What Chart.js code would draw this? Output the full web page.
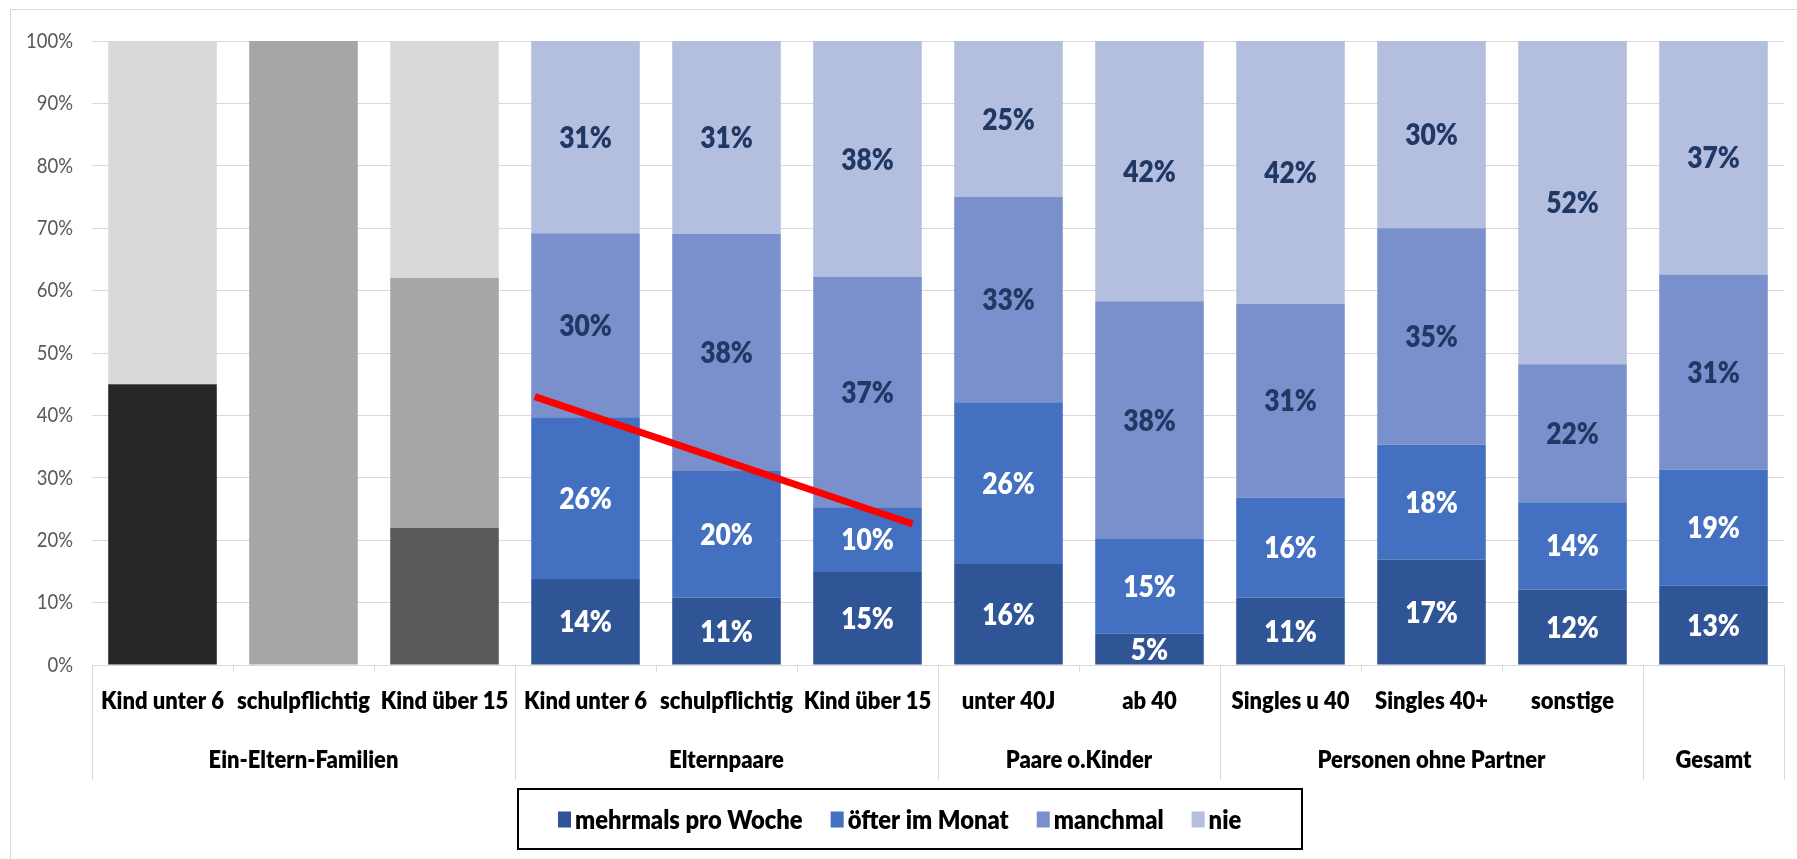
<!DOCTYPE html>
<html>
<head>
<meta charset="utf-8">
<script src="https://cdn.jsdelivr.net/npm/chart.js@4/dist/chart.umd.min.js"></script>
<style>
  html, body { margin: 0; padding: 0; background: #ffffff; }
  #wrap { width: 1797px; height: 859px; position: relative; }
</style>
</head>
<body>
<div id="wrap"><canvas id="c" width="1797" height="859"></canvas></div>
<script>
// ---- data ----
const categories = ['Kind unter 6', 'schulpflichtig', 'Kind über 15', 'Kind unter 6', 'schulpflichtig', 'Kind über 15', 'unter 40J', 'ab 40', 'Singles u 40', 'Singles 40+', 'sonstige', ''];
const groupNames = ['Ein-Eltern-Familien', 'Elternpaare', 'Paare o.Kinder', 'Personen ohne Partner', 'Gesamt'];
const groupSizes = [3, 3, 2, 3, 1];
const seriesNames = ['mehrmals pro Woche', 'öfter im Monat', 'manchmal', 'nie'];
const mehrmals = [45, 0, 22, 13.8, 10.8, 14.9, 16.2, 5.0, 10.8, 16.9, 12.1, 12.7];
const oefter   = [0, 100, 40, 25.9, 20.3, 10.4, 25.9, 15.2, 16.0, 18.4, 14.0, 18.6];
const manchmal = [0, 0, 0, 29.5, 38.0, 36.9, 32.9, 38.1, 31.1, 34.7, 22.1, 31.3];
const nie      = [55, 0, 38, 30.8, 30.9, 37.8, 25.0, 41.7, 42.1, 30.0, 51.8, 37.4];
const showLabels = [false, false, false, true, true, true, true, true, true, true, true, true];
const yTicks = [0, 10, 20, 30, 40, 50, 60, 70, 80, 90, 100];
// red annotation line (category-index units, percent)
const trendX = [2.64, 5.32];
const trendY = [43, 22.6];

// ---- styles ----
const FONT = "Lato, 'Open Sans', sans-serif";
const BOLD = '800 ';
const COND = 0.88;
const seriesColors = ['#2f5597', '#4370c0', '#7990cc', '#b4bfdf'];
const labelColors = ['#ffffff', '#ffffff', '#203864', '#203864'];
const grayOverride = [
  ['#262626', null, '#595959'],
  [null, '#a6a6a6', '#a6a6a6'],
  [null, null, null],
  ['#d9d9d9', null, '#d9d9d9']
];
function colorsFor(si) {
  return categories.map((_, i) => (i < 3 && grayOverride[si][i]) ? grayOverride[si][i] : seriesColors[si]);
}
const seriesData = [mehrmals, oefter, manchmal, nie];

const datasets = seriesData.map((d, si) => ({
  label: seriesNames[si],
  data: d,
  backgroundColor: colorsFor(si),
  borderWidth: 0,
  barPercentage: 0.77,
  categoryPercentage: 1.0
}));

const PLOT_LEFT = 92, PLOT_RIGHT_PAD = 13, PLOT_TOP = 41, PLOT_BOTTOM = 665;

function condText(ctx, text, x, y, font, color, align) {
  ctx.save();
  ctx.font = font;
  ctx.fillStyle = color;
  ctx.textBaseline = 'middle';
  ctx.textAlign = align || 'center';
  ctx.translate(x, y);
  ctx.scale(COND, 1);
  ctx.fillText(text, 0, 0);
  ctx.restore();
}
function condWidth(ctx, text, font) {
  ctx.save();
  ctx.font = font;
  const w = ctx.measureText(text).width * COND;
  ctx.restore();
  return w;
}

const decorPlugin = {
  id: 'decor',
  beforeDraw(chart) {
    const ctx = chart.ctx;
    ctx.save();
    ctx.fillStyle = '#ffffff';
    ctx.fillRect(0, 0, chart.width, chart.height);
    ctx.strokeStyle = '#d9d9d9';
    ctx.lineWidth = 1;
    ctx.strokeRect(10.5, 9.5, chart.width + 20, chart.height + 20);
    ctx.restore();
  },
  afterDatasetsDraw(chart) {
    const ctx = chart.ctx;
    const xs = chart.scales.x, ys = chart.scales.y;
    // data labels
    const dlFont = BOLD + '30px ' + FONT;
    chart.data.datasets.forEach((ds, si) => {
      const meta = chart.getDatasetMeta(si);
      meta.data.forEach((bar, i) => {
        if (!showLabels[i]) return;
        const v = ds.data[i];
        if (!v) return;
        const yc = (bar.y + bar.base) / 2;
        condText(ctx, Math.round(v) + '%', bar.x, yc + 1, dlFont, labelColors[si], 'center');
      });
    });

    // red line
    const cw = (xs.right - xs.left) / categories.length;
    const px = v => xs.left + (v + 0.5) * cw;
    ctx.save();
    ctx.strokeStyle = '#ff0000';
    ctx.lineWidth = 7;
    ctx.lineCap = 'butt';
    ctx.beginPath();
    ctx.moveTo(px(trendX[0]), ys.getPixelForValue(trendY[0]));
    ctx.lineTo(px(trendX[1]), ys.getPixelForValue(trendY[1]));
    ctx.stroke();
    ctx.restore();
  },
  afterDraw(chart) {
    const ctx = chart.ctx;
    const xs = chart.scales.x, ys = chart.scales.y;
    const cw = (xs.right - xs.left) / categories.length;

    // y tick labels
    yTicks.forEach(v => {
      condText(ctx, v + '%', xs.left - 19, ys.getPixelForValue(v), '21px ' + FONT, '#595959', 'right');
    });

    // category labels
    const catFont = BOLD + '25px ' + FONT;
    categories.forEach((c, i) => {
      if (!c) return;
      condText(ctx, c, xs.getPixelForValue(i), 701, catFont, '#000000', 'center');
    });

    // group separators and labels
    ctx.save();
    ctx.strokeStyle = '#d9d9d9';
    ctx.lineWidth = 1;
    let start = 0;
    const sepBottom = 780;
    const drawSep = x => {
      ctx.beginPath();
      ctx.moveTo(Math.round(x) + 0.5, PLOT_BOTTOM);
      ctx.lineTo(Math.round(x) + 0.5, sepBottom);
      ctx.stroke();
    };
    drawSep(xs.left);
    groupSizes.forEach((n, gi) => {
      const x0 = xs.left + start * cw;
      const x1 = xs.left + (start + n) * cw;
      drawSep(x1);
      condText(ctx, groupNames[gi], (x0 + x1) / 2, 760, catFont, '#000000', 'center');
      start += n;
    });
    ctx.restore();

    // legend
    ctx.save();
    const bx = 518, by = 789, bw = 784, bh = 60;
    ctx.strokeStyle = '#000000';
    ctx.lineWidth = 2;
    ctx.strokeRect(bx, by, bw, bh);
    ctx.restore();
    const lgFont = BOLD + '27px ' + FONT;
    const sq = 13, gapT = 4, gapI = 28;
    const widths = seriesNames.map(s => condWidth(ctx, s, lgFont));
    let x = bx + 40;
    const cy = by + bh / 2;
    seriesNames.forEach((s, si) => {
      ctx.fillStyle = seriesColors[si];
      ctx.fillRect(x, cy - sq / 2 - 1, sq, sq + 3);
      condText(ctx, s, x + sq + gapT, cy + 1, lgFont, '#000000', 'left');
      x += sq + gapT + widths[si] + gapI;
    });
  }
};

new Chart(document.getElementById('c'), {
  type: 'bar',
  data: { labels: categories, datasets },
  options: {
    responsive: false,
    devicePixelRatio: 1,
    animation: false,
    layout: { padding: { left: 0, top: PLOT_TOP, right: PLOT_RIGHT_PAD, bottom: 0 } },
    plugins: { legend: { display: false }, tooltip: { enabled: false } },
    scales: {
      x: {
        stacked: true,
        afterFit: s => { s.height = 859 - PLOT_BOTTOM; },
        grid: { display: true, drawOnChartArea: false, drawTicks: true, tickLength: 7, color: '#d9d9d9', offset: true },
        border: { display: true, color: '#d9d9d9', width: 1 },
        ticks: { display: false, autoSkip: false, maxRotation: 0, minRotation: 0 }
      },
      y: {
        stacked: true,
        min: 0, max: 100,
        afterFit: s => { s.width = PLOT_LEFT; },
        afterBuildTicks: s => { s.ticks = yTicks.map(v => ({ value: v })); },
        grid: { color: '#d9d9d9', lineWidth: 1, drawTicks: false },
        border: { display: false },
        ticks: { display: false }
      }
    }
  },
  plugins: [decorPlugin]
});
</script>
</body>
</html>
